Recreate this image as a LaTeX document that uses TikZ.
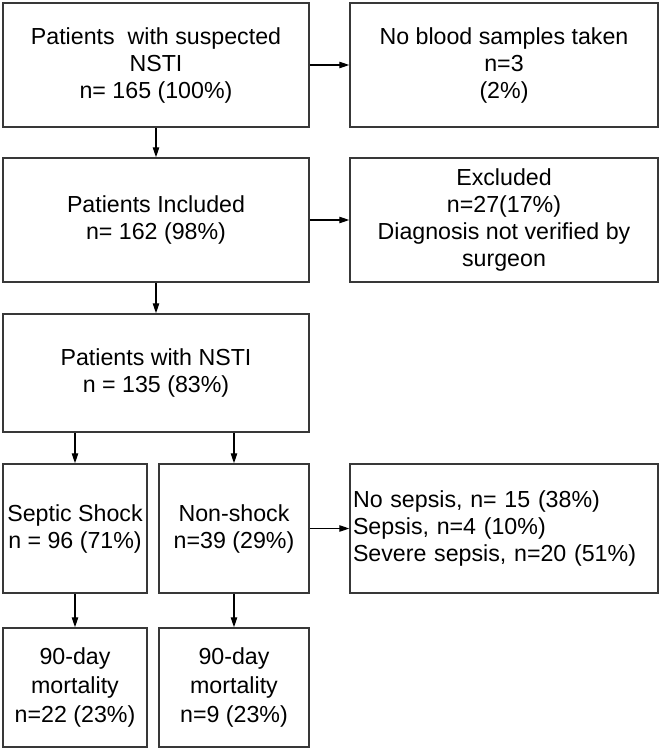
\documentclass[tikz,border=0pt]{standalone}
\usepackage{fontspec}
\setmainfont{Liberation Sans}
\usetikzlibrary{arrows.meta}
\begin{document}
\begin{tikzpicture}[x=1pt,y=-1pt,
  box/.style={draw=black!78,line width=1.5pt,rectangle,inner sep=0pt,
    align=center,font=\fontsize{23.2}{27}\selectfont},
  conn/.style={line width=1.1pt,-{Triangle[length=10pt,width=6.5pt]}}]
\useasboundingbox (0,0) rectangle (661,750);
\node[box,minimum width=306,minimum height=124] (b1) at (156,65)
  {Patients\ \ with suspected\\NSTI\\n= 165 (100\%)};
\node[box,minimum width=308,minimum height=124] (b2) at (504,65)
  {No blood samples taken\\n=3\\(2\%)};
\node[box,minimum width=306,minimum height=124] (b3) at (156,220)
  {Patients Included\\n= 162 (98\%)};
\node[box,minimum width=308,minimum height=124] (b4) at (504,220)
  {Excluded\\n=27(17\%)\\Diagnosis not verified by\\surgeon};
\node[box,minimum width=306,minimum height=118] (b5) at (156,373)
  {Patients with NSTI\\n = 135 (83\%)};
\node[box,minimum width=144,minimum height=129] (b6) at (75,528.5)
  {Septic Shock\\n = 96 (71\%)};
\node[box,minimum width=150,minimum height=129] (b7) at (234,528.5)
  {Non-shock\\n=39 (29\%)};
\node[box,minimum width=308,minimum height=129,text width=302,align=left,inner xsep=3pt] (b8) at (504,528.5)
  {No sepsis, n= 15 (38\%)\\Sepsis, n=4 (10\%)\\Severe sepsis, n=20 (51\%)};
\node[box,minimum width=144,minimum height=119,font=\fontsize{23.2}{29}\selectfont] (b9) at (75,687.5)
  {90-day\\mortality\\n=22 (23\%)};
\node[box,minimum width=150,minimum height=119,font=\fontsize{23.2}{29}\selectfont] (b10) at (234,687.5)
  {90-day\\mortality\\n=9 (23\%)};
\draw[conn] (b1.south) -- (b3.north);
\draw[conn] (b1.east) -- (b2.west);
\draw[conn] (b3.south) -- (b5.north);
\draw[conn] (b3.east) -- (b4.west);
\draw[conn] (b5.south -| b6.north) -- (b6.north);
\draw[conn] (b5.south -| b7.north) -- (b7.north);
\draw[conn] (b7.east) -- (b8.west);
\draw[conn] (b6.south) -- (b9.north);
\draw[conn] (b7.south) -- (b10.north);
\end{tikzpicture}
\end{document}
